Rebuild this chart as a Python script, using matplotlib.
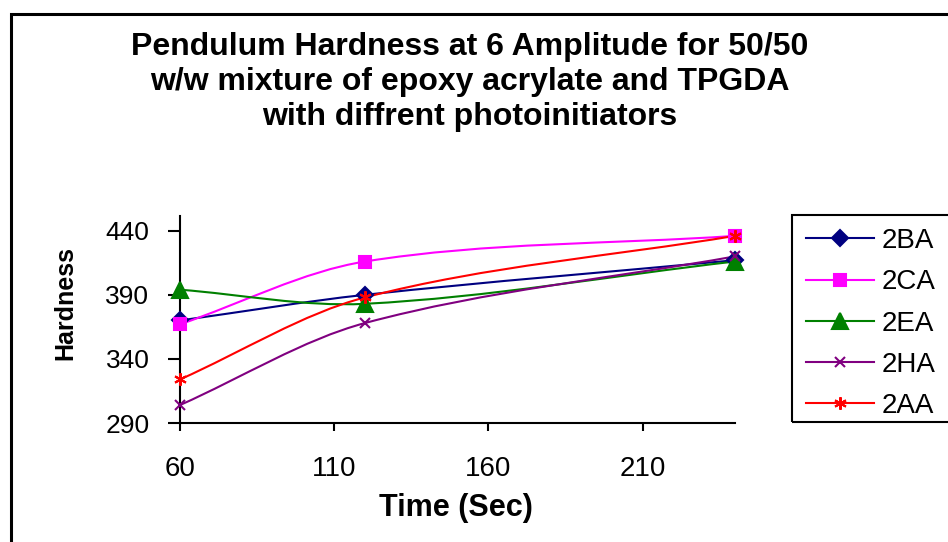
import matplotlib
matplotlib.use("Agg")
import matplotlib.pyplot as plt
from matplotlib.path import Path
from matplotlib.patches import PathPatch, Rectangle
from matplotlib.lines import Line2D

# data
times = [60, 120, 240]
series_names = ["2BA", "2CA", "2EA", "2HA", "2AA"]
hard_2BA = [370, 390, 417]
hard_2CA = [367, 416, 436]
hard_2EA = [394, 383, 416]
hard_2HA = [304, 368, 420]
hard_2AA = [324, 388, 436]
x_ticks = [60, 110, 160, 210]
y_ticks = [290, 340, 390, 440]

colors = ["#000080", "#FF00FF", "#008000", "#800080", "#FF0000"]
markers = ["D", "s", "^", "x", (6, 2, 0)]
msizes = [8, 9, 12, 7, 9]

plt.rcParams["font.family"] = ["Liberation Sans", "DejaVu Sans"]


def smooth_path(xs, ys):
    # smoothed line through the points (cubic hermite -> bezier)
    n = len(xs)
    slopes = []
    for i in range(n):
        if i == 0:
            slopes.append((ys[1] - ys[0]) / (xs[1] - xs[0]))
        elif i == n - 1:
            slopes.append((ys[i] - ys[i - 1]) / (xs[i] - xs[i - 1]))
        else:
            slopes.append((ys[i + 1] - ys[i - 1]) / (xs[i + 1] - xs[i - 1]))
    verts = [(xs[0], ys[0])]
    codes = [Path.MOVETO]
    for i in range(n - 1):
        d = (xs[i + 1] - xs[i]) / 3
        verts += [(xs[i] + d, ys[i] + slopes[i] * d),
                  (xs[i + 1] - d, ys[i + 1] - slopes[i + 1] * d),
                  (xs[i + 1], ys[i + 1])]
        codes += [Path.CURVE4] * 3
    return Path(verts, codes)


W, H = 948, 542
fig = plt.figure(figsize=(W / 100, H / 100), dpi=100, facecolor="w")
ax = fig.add_axes([180 / W, 1 - 423 / H, (735 - 180) / W, (423 - 216) / H])

all_series = [hard_2BA, hard_2CA, hard_2EA, hard_2HA, hard_2AA]
handles = []
for name, vals, c, m, ms in zip(series_names, all_series, colors, markers, msizes):
    ax.add_patch(PathPatch(smooth_path(times, vals), facecolor="none",
                           edgecolor=c, lw=1.5, clip_on=False, zorder=2))
    ax.plot(times, vals, linestyle="none", marker=m, ms=ms, color=c,
            mew=1.5, clip_on=False, zorder=3)
    handles.append(Line2D([], [], color=c, lw=1.5, marker=m, ms=ms, mew=1.5))

ax.set_xlim(60, 240)
ax.set_ylim(290, 451.5)
ax.set_xticks(x_ticks)
ax.set_yticks(y_ticks)
for s in ["top", "right"]:
    ax.spines[s].set_visible(False)
for s in ["left", "bottom"]:
    ax.spines[s].set_linewidth(1.5)
ax.tick_params(direction="out", width=1.5)
ax.tick_params(axis="y", labelsize=19, length=9, pad=13)
ax.tick_params(axis="x", labelsize=20, length=5.5, pad=18.5)
ax.set_xlabel("Time (Sec)", fontsize=22, fontweight="bold")
ax.xaxis.set_label_coords((456 - 180) / (735 - 180), -(508 - 423) / (423 - 216))
ax.xaxis.label.set_va("center")
ax.set_ylabel("Hardness", fontsize=18, fontweight="bold")
ax.yaxis.set_label_coords(-(180 - 65) / (735 - 180), (423 - 303) / (423 - 216))
ax.yaxis.label.set_va("center")

fig.text(470 / W, 1 - 82 / H,
         "Pendulum Hardness at 6 Amplitude for 50/50\n"
         "w/w mixture of epoxy acrylate and TPGDA\n"
         "with diffrent photoinitiators",
         ha="center", va="center", fontsize=23, fontweight="bold",
         linespacing=1.23)

# chart border and legend box
fig.patches.append(Rectangle((10.5 / W, -0.1), 1.0, 1.1 - 14 / H,
                             transform=fig.transFigure, fill=False,
                             ec="black", lw=2.2))
fig.patches.append(Rectangle((792 / W, 1 - 422 / H), 0.3, (422 - 215) / H,
                             transform=fig.transFigure, fill=False,
                             ec="black", lw=1.5))

fig.legend(handles, series_names, loc="upper left",
           bbox_to_anchor=(806 / W, 1 - 228 / H), frameon=False,
           fontsize=20, handlelength=2.45, handletextpad=0.29,
           labelspacing=0.55, borderpad=0, borderaxespad=0)

fig.savefig("out.png", dpi=100)
